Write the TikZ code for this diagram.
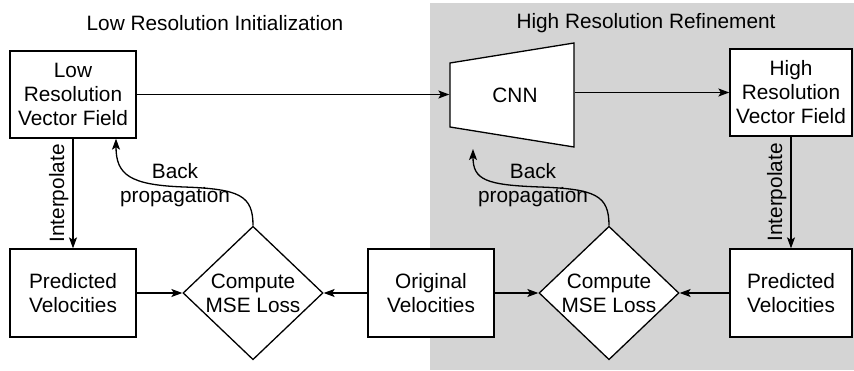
\documentclass[tikz,border=0pt]{standalone}
\usepackage{fontspec}
\setmainfont{Liberation Sans}
\usetikzlibrary{shapes.geometric,arrows.meta}
\definecolor{bg}{RGB}{212,212,212}
\begin{document}
\begin{tikzpicture}[x=1pt,y=-1pt,
  font=\fontsize{20.8}{24}\selectfont,
  line width=1.3pt,
  >={Stealth[length=11pt,width=8pt,inset=2.5pt]},
  box/.style={draw,fill=white,minimum width=126pt,minimum height=87pt,align=center,inner sep=0pt},
  dia/.style={draw,fill=white,shape=diamond,minimum width=140pt,minimum height=128pt,inner sep=0pt,align=center},
  lbl/.style={align=center,inner sep=0pt},
  vlbl/.style={midway,rotate=90,anchor=south,inner sep=4pt}]
\useasboundingbox (0,0) rectangle (854,371);
\fill[bg] (430,3) rectangle (854,370);
% titles
\node[lbl] (t1) at (215,23) {Low Resolution Initialization};
\node[lbl] (t2) at (646,23) {High Resolution Refinement};
% boxes
\node[box] (lowvf) at (73,94.5) {Low\\Resolution\\Vector Field};
\node[box,minimum width=122pt] (highvf) at (791,92.5) {High\\Resolution\\Vector Field};
\node[box,minimum height=88pt] (predl) at (73,293) {Predicted\\Velocities};
\node[box,minimum height=88pt] (orig) at (431,293) {Original\\Velocities};
\node[box,minimum height=88pt,minimum width=122pt] (predr) at (791,293) {Predicted\\Velocities};
\node[dia] (dial) at (253,293) {Compute\\MSE Loss};
\node[dia] (diar) at (609,293) {Compute\\MSE Loss};
% CNN trapezoid
\draw[fill=white] (450,63) -- (574,43) -- (574,147) -- (450,127) -- cycle;
\node[minimum width=124pt,minimum height=104pt,inner sep=0pt] (cnn) at (512,95) {};
\node[lbl] (cnnt) at (515,95) {CNN};
\coordinate (cnnb) at (473,149);
% connectors
\draw[->] (lowvf.east) -- (lowvf.east -| cnn.west);
\draw[->] (cnn.east |- highvf) -- (highvf.west);
\draw[->] (lowvf.south) -- (predl.north) node[vlbl] {Interpolate};
\draw[->] (highvf.south) -- (predr.north) node[vlbl] {Interpolate};
\draw[->] (predl) -- (dial);
\draw[->] (orig) -- (dial);
\draw[->] (orig) -- (diar);
\draw[->] (predr) -- (diar);
\draw[->] (dial.north) .. controls +(0,-30) and (240,189) .. (184,187)
  .. controls (130,185) and (116,175) .. ([xshift=43pt]lowvf.south);
\draw[->] (diar.north) .. controls +(0,-30) and (596,189) .. (540,187)
  .. controls (486,185) and (473,180) .. (cnnb);
\node[lbl] (bpl) at (175,185) {Back\\propagation};
\node[lbl] (bpr) at (533,185) {Back\\propagation};
\end{tikzpicture}
\end{document}
